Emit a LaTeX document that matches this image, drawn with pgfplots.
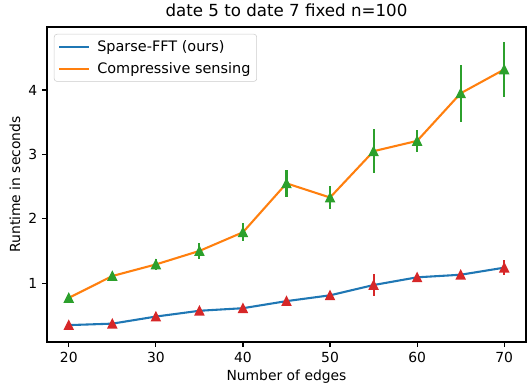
\documentclass[border=0pt]{standalone}
\usepackage{pgfplots}
\pgfplotsset{compat=1.18}
\usepackage{pgfplotstable}
\usepackage{fontspec}
\setmainfont{DejaVu Sans}
\usetikzlibrary{calc}
\definecolor{mblue}{HTML}{1F77B4}
\definecolor{morange}{HTML}{FF7F0E}
\definecolor{mgreen}{HTML}{2CA02C}
\definecolor{mred}{HTML}{D62728}
\pgfdeclareplotmark{mpltri}{%
  \pgfpathmoveto{\pgfqpoint{0pt}{\pgfplotmarksize}}%
  \pgfpathlineto{\pgfqpoint{-\pgfplotmarksize}{-\pgfplotmarksize}}%
  \pgfpathlineto{\pgfqpoint{\pgfplotmarksize}{-\pgfplotmarksize}}%
  \pgfpathclose\pgfusepathqfillstroke}
\pgfplotstableread{
x y e
20 0.347 0.02
25 0.37 0.02
30 0.48 0.03
35 0.57 0.03
40 0.61 0.03
45 0.72 0.03
50 0.81 0.03
55 0.97 0.17
60 1.09 0.03
65 1.13 0.03
70 1.24 0.12
}\sfft
\pgfplotstableread{
x y e
20 0.77 0.03
25 1.11 0.04
30 1.29 0.08
35 1.50 0.12
40 1.79 0.14
45 2.55 0.21
50 2.33 0.18
55 3.05 0.34
60 3.21 0.17
65 3.95 0.44
70 4.32 0.43
}\cs
\begin{document}
\fontsize{10bp}{12bp}\selectfont
\begin{tikzpicture}
\begin{axis}[
  name=ax,
  at={(0,0)}, anchor=south west,
  scale only axis,
  width=344.9bp, height=226.8bp,
  xmin=17.5, xmax=72.5, ymin=0.085, ymax=4.98,
  xtick={20,30,40,50,60,70},
  ytick={1,2,3,4},
  tick align=outside,
  major tick length=3.5bp,
  tick style={black, line width=0.8bp},
  axis line style={line width=0.8bp},
  xtick pos=bottom, ytick pos=left,
  /pgf/number format/assume math mode=true,
  ticklabel style={font=\fontsize{10bp}{12bp}\selectfont},
  xticklabel style={yshift=-0.5bp},
  title={date 5 to date 7 fixed n=100},
  title style={font=\fontsize{12bp}{14bp}\selectfont, yshift=-2bp},
  xlabel={Number of edges},
  ylabel={Runtime in seconds},
  label style={font=\fontsize{10bp}{12bp}\selectfont},
  xlabel style={yshift=2bp},
  ylabel style={yshift=-1bp},
  legend cell align=left,
  legend style={at={(0,1)}, anchor=north west, xshift=5bp, yshift=-5bp,
    draw=black!20, rounded corners=2bp, fill=white, fill opacity=0.8, text opacity=1,
    font=\fontsize{10.4bp}{12bp}\selectfont, inner xsep=3bp, inner ysep=3bp, row sep=3.2bp,
    nodes={inner sep=1.5bp},
    /tikz/every odd column/.append style={column sep=3.5bp}},
  legend image code/.code={\draw[#1, line width=1.5bp] (0bp,0bp) -- (21.5bp,0bp);},
]
\addplot[mblue, line width=1.5bp, mark=none] table[x=x,y=y] {\sfft};
\addlegendentry{Sparse-FFT (ours)}
\addplot[morange, line width=1.5bp, mark=none] table[x=x,y=y] {\cs};
\addlegendentry{Compressive sensing}
\addplot[forget plot, draw=none, mark=mpltri, mark size=3bp,
  mark options={fill=mgreen, draw=mgreen, line width=1bp, solid},
  error bars/.cd, y dir=both, y explicit, error mark=none,
  error bar style={mgreen, line width=1.5bp}]
  table[x=x,y=y,y error=e] {\cs};
\addplot[forget plot, draw=none, mark=mpltri, mark size=3bp,
  mark options={fill=mred, draw=mred, line width=1bp, solid},
  error bars/.cd, y dir=both, y explicit, error mark=none,
  error bar style={mred, line width=1.5bp}]
  table[x=x,y=y,y error=e] {\sfft};
\end{axis}
\pgfresetboundingbox
\path ($(ax.south west)+(-33.84bp,-35.28bp)$) rectangle ($(ax.north east)+(1.44bp,19.44bp)$);
\end{tikzpicture}
\end{document}
